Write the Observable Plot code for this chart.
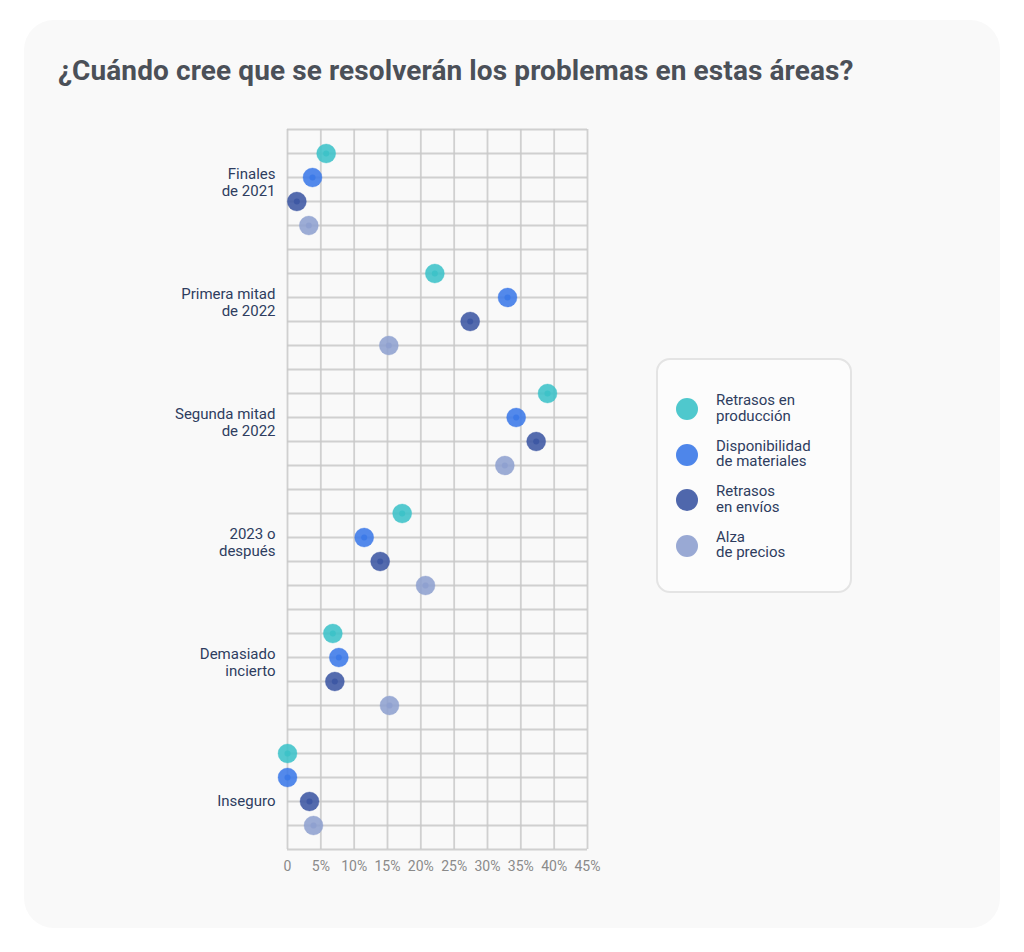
<!DOCTYPE html>
<html><head><meta charset="utf-8">
<script src="https://cdn.jsdelivr.net/npm/d3@7"></script>
<script src="https://cdn.jsdelivr.net/npm/@observablehq/plot@0.6"></script>
<style>
body{margin:0;background:#fff;font-family:Roboto,"Noto Sans",sans-serif;}
#wrap{position:relative;width:1024px;height:952px;overflow:hidden;}
#panel{position:absolute;left:24px;top:20px;width:976px;height:908px;border-radius:30px;background:#f9f9f9;}
#title{position:absolute;left:58px;top:54px;font-size:28px;font-weight:700;color:#4b5058;letter-spacing:0.1px;white-space:nowrap;}
#chart{position:absolute;left:140px;top:110px;}
#legend{position:absolute;left:656px;top:358px;width:196px;height:235px;box-sizing:border-box;border:2px solid #e4e4e4;border-radius:14px;background:#fcfcfc;}
.item{position:absolute;left:0;width:190px;height:40px;}
.sw{position:absolute;left:18px;top:9px;width:22px;height:22px;border-radius:50%;opacity:.9;}
.lab{position:absolute;left:58px;top:4px;font-size:15px;line-height:15.5px;color:#2e3d5f;white-space:pre;}
</style></head>
<body><div id="wrap"><div id="panel"></div>
<div id="title">¿Cuándo cree que se resolverán los problemas en estas áreas?</div>
<div id="chart"></div><div id="legend"></div></div>
<script>
const categories = ["Finales\nde 2021", "Primera mitad\nde 2022", "Segunda mitad\nde 2022", "2023 o\ndespués", "Demasiado\nincierto", "Inseguro"];
const series = ["Retrasos en producción", "Disponibilidad de materiales", "Retrasos en envíos", "Alza de precios"];
const legendLabels = ["Retrasos en\nproducción", "Disponibilidad\nde materiales", "Retrasos\nen envíos", "Alza\nde precios"];
const produccion = [5.8, 22.1, 39.0, 17.2, 6.8, 0];
const materiales = [3.75, 33.0, 34.3, 11.5, 7.7, 0];
const envios = [1.4, 27.4, 37.3, 13.9, 7.1, 3.3];
const precios = [3.2, 15.2, 32.6, 20.7, 15.3, 3.9];
const colors = ["#3cc2c8", "#3b79e8", "#3c57a3", "#8ea0cf"];
const xTicks = [0, 5, 10, 15, 20, 25, 30, 35, 40, 45];

const seriesValues = [produccion, materiales, envios, precios];
const rows = [];
categories.forEach((c, i) => {
  seriesValues.forEach((vals, s) => {
    rows.push({category: c, series: series[s], value: vals[i], slot: i * 5 + s + 1});
  });
});
const labelRows = categories.map((c, i) => ({
  category: c,
  twoLine: c.includes("\n"),
  slot: c.includes("\n") ? i * 5 + 2 : i * 5 + 3
}));
const nSlots = categories.length * 5;

const chart = Plot.plot({
  width: 480, height: 780,
  marginLeft: 147, marginRight: 33, marginTop: 19, marginBottom: 41,
  style: {background: "transparent", fontFamily: "Roboto, sans-serif"},
  x: {domain: [0, 45], label: null},
  y: {domain: [0, nSlots], reverse: true, axis: null},
  color: {domain: series, range: colors},
  marks: [
    Plot.ruleY(d3.range(nSlots + 1), {stroke: "#c9c9c9", strokeWidth: 1.8, strokeOpacity: 0.85}),
    Plot.ruleX(xTicks, {stroke: "#c9c9c9", strokeWidth: 1.8, strokeOpacity: 0.85}),
    Plot.axisX({ticks: xTicks, tickSize: 0, tickPadding: 12, fontSize: 14, fill: "#8a8a8a",
      tickFormat: d => d === 0 ? "0" : d + "%"}),
    Plot.text(labelRows.filter(d => d.twoLine), {x: 0, y: "slot", text: "category", dx: -12, dy: -10,
      textAnchor: "end", lineAnchor: "top", lineHeight: 1.1, fontSize: 15, fill: "#2e3d5f"}),
    Plot.text(labelRows.filter(d => !d.twoLine), {x: 0, y: "slot", text: "category", dx: -12,
      textAnchor: "end", lineAnchor: "middle", fontSize: 15, fill: "#2e3d5f"}),
    Plot.dot(rows, {x: "value", y: "slot", r: 9.5, fill: "series", fillOpacity: 0.88,
      stroke: "series", strokeOpacity: 0.35, strokeWidth: 1}),
    Plot.dot(rows, {x: "value", y: "slot", r: 3, fill: "series", fillOpacity: 0.9})
  ]
});
document.getElementById("chart").appendChild(chart);

const legend = document.getElementById("legend");
legendLabels.forEach((l, i) => {
  const it = document.createElement("div");
  it.className = "item";
  it.style.top = (29 + i * 45.6) + "px";
  it.innerHTML = `<div class="sw" style="background:${colors[i]}"></div><div class="lab"></div>`;
  it.querySelector(".lab").textContent = l;
  legend.appendChild(it);
});
</script></body></html>
